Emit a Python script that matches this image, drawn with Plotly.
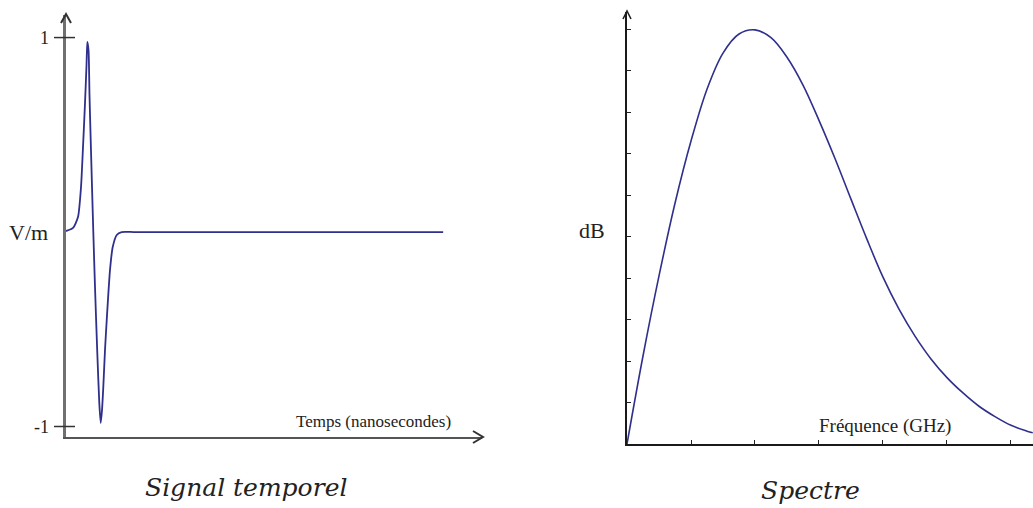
import plotly.graph_objects as go

# ---------------- data ----------------
# Left: time signal (pulse), time in arbitrary ns units
time_ns = [0, 0.186, 0.318, 0.398, 0.451, 0.504, 0.544, 0.565, 0.597, 0.623, 0.655,
           0.690, 0.724, 0.769, 0.830, 0.883, 0.920, 0.955, 0.989, 1.034, 1.080,
           1.167, 1.239, 1.345, 1.477, 1.8, 3.0, 6.0, 10.0]
signal_vm = [0.005, 0.021, 0.077, 0.231, 0.437, 0.663, 0.859, 0.978, 0.936, 0.704, 0.473,
             0.231, 0.0, -0.283, -0.622, -0.879, -0.982, -0.915, -0.797, -0.607, -0.452,
             -0.195, -0.077, -0.015, 0.0, 0.0, 0.0, 0.0, 0.0]

# Right: spectrum, frequency in tick units, level in tick units
freq_ghz = [0, 0.25, 0.5, 0.75, 1.0, 1.25, 1.5, 1.75, 2.0, 2.25, 2.5, 2.75, 3.0,
            3.25, 3.5, 3.75, 4.0, 4.25, 4.5, 4.75, 5.0, 5.25, 5.5, 5.75, 6.0,
            6.25, 6.34]
level_db = [0, 2.12, 4.05, 5.8, 7.3, 8.55, 9.42, 9.88, 9.98, 9.79, 9.32, 8.65, 7.8,
            6.88, 5.9, 4.93, 4.02, 3.25, 2.6, 2.05, 1.6, 1.23, 0.91, 0.66, 0.45,
            0.31, 0.27]

left_ticks = [-1, 1]
left_tick_labels = ["-1", "1"]
right_xticks = [1, 2, 3, 4, 5, 6]
right_yticks = [1, 2, 3, 4, 5, 6, 7, 8, 9, 10]

# ---------------- layout helpers ----------------
W, H = 1033, 508
def px(x):
    return x / W
def py(y):
    return (H - y) / H

LINE_COLOR = "#2f2f8c"
SERIF = "Liberation Serif, Times New Roman, serif"
TITLE_FONT = "DejaVu Serif, serif"

fig = go.Figure()
fig.add_trace(go.Scatter(x=time_ns, y=signal_vm, mode="lines",
                         line=dict(color=LINE_COLOR, width=1.8, shape="spline", smoothing=0.6),
                         xaxis="x", yaxis="y", showlegend=False, hoverinfo="skip"))
fig.add_trace(go.Scatter(x=freq_ghz, y=level_db, mode="lines",
                         line=dict(color=LINE_COLOR, width=1.6, shape="spline", smoothing=1.0),
                         xaxis="x2", yaxis="y2", showlegend=False, hoverinfo="skip"))

axis_common = dict(showgrid=False, zeroline=False, fixedrange=True)

fig.update_layout(
    width=W, height=H,
    margin=dict(l=0, r=0, t=0, b=0),
    paper_bgcolor="white", plot_bgcolor="white",
    xaxis=dict(domain=[px(66), px(482)], range=[0, 11.03], showline=True,
               linecolor="#555555", linewidth=2, showticklabels=False, ticks="",
               anchor="y", **axis_common),
    yaxis=dict(domain=[py(437), py(15)], range=[-1.054, 1.116], showline=True,
               linecolor="#707070", linewidth=2.5, showticklabels=False, ticks="",
               anchor="x", **axis_common),
    xaxis2=dict(domain=[px(627), 1.0], range=[0, 6.344], showline=True,
                linecolor="#1a1a1a", linewidth=2, showticklabels=False,
                ticks="inside", tickvals=right_xticks, ticklen=4, tickwidth=1.2,
                tickcolor="#222222", anchor="y2", **axis_common),
    yaxis2=dict(domain=[py(444), py(12)], range=[0, 10.41], showline=True,
                linecolor="#1a1a1a", linewidth=2, showticklabels=False,
                ticks="inside", tickvals=right_yticks, ticklen=4, tickwidth=1.2,
                tickcolor="#222222", anchor="x2", **axis_common),
)

shapes = []
# crossing tick marks on left y axis
for v in left_ticks:
    shapes.append(dict(type="line", xref="paper", yref="y", x0=px(54), x1=px(75),
                       y0=v, y1=v, line=dict(color="#333333", width=1.5)))
# arrow heads (open chevrons)
def chevron(path, color, width):
    return dict(type="path", xref="paper", yref="paper", path=path,
                line=dict(color=color, width=width))
shapes.append(chevron(f"M {px(61)} {py(23)} L {px(66)} {py(14)} L {px(71)} {py(23)}", "#333333", 2))
shapes.append(chevron(f"M {px(473)} {py(431)} L {px(483)} {py(437)} L {px(473)} {py(443)}", "#333333", 2))
shapes.append(chevron(f"M {px(623)} {py(19)} L {px(627)} {py(11)} L {px(631)} {py(19)}", "#222222", 1.6))
fig.update_layout(shapes=shapes)

annotations = []
# left y-axis labels
for v, t in zip(left_ticks, left_tick_labels):
    annotations.append(dict(xref="paper", yref="y", x=px(51), y=v, text=t,
                            showarrow=False, xanchor="right", yanchor="middle",
                            font=dict(family=SERIF, size=18, color="#222222")))
annotations.append(dict(xref="paper", yref="y", x=px(50), y=0, text="V/m",
                        showarrow=False, xanchor="right", yanchor="middle",
                        font=dict(family=SERIF, size=22, color="#222222")))
annotations.append(dict(xref="paper", yref="paper", x=px(373), y=py(421),
                        text="Temps (nanosecondes)", showarrow=False,
                        xanchor="center", yanchor="middle",
                        font=dict(family=SERIF, size=17, color="#222222")))
annotations.append(dict(xref="paper", yref="paper", x=px(246), y=py(487),
                        text="<i>Signal temporel</i>", showarrow=False,
                        xanchor="center", yanchor="middle",
                        font=dict(family=TITLE_FONT, size=25, color="#222222")))
# right labels
annotations.append(dict(xref="paper", yref="paper", x=px(592), y=py(230),
                        text="dB", showarrow=False, xanchor="center", yanchor="middle",
                        font=dict(family=SERIF, size=22, color="#222222")))
annotations.append(dict(xref="paper", yref="paper", x=px(885), y=py(426),
                        text="Fréquence (GHz)", showarrow=False,
                        xanchor="center", yanchor="middle",
                        font=dict(family=SERIF, size=19, color="#222222")))
annotations.append(dict(xref="paper", yref="paper", x=px(810), y=py(490),
                        text="<i>Spectre</i>", showarrow=False,
                        xanchor="center", yanchor="middle",
                        font=dict(family=TITLE_FONT, size=25, color="#222222")))
fig.update_layout(annotations=annotations)

fig.write_html("out.html")
